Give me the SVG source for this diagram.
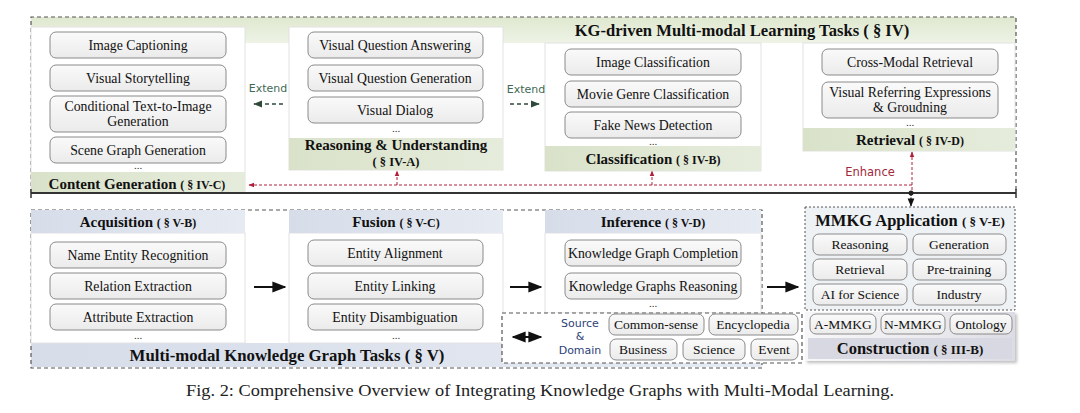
<svg xmlns="http://www.w3.org/2000/svg" width="1080" height="413" viewBox="0 0 1080 413">
<defs>
<linearGradient id="hdr" x1="0" y1="0" x2="0" y2="1"><stop offset="0" stop-color="#dfe8cf"/><stop offset="1" stop-color="#eef3e6"/></linearGradient>
<linearGradient id="item" x1="0" y1="0" x2="0" y2="1"><stop offset="0" stop-color="#fafafa"/><stop offset="1" stop-color="#ebebeb"/></linearGradient>
<linearGradient id="gband" x1="0" y1="0" x2="1" y2="0"><stop offset="0" stop-color="#d9e2c9"/><stop offset="1" stop-color="#e6ecdc"/></linearGradient>
<linearGradient id="bband" x1="0" y1="0" x2="1" y2="0"><stop offset="0" stop-color="#d6dde9"/><stop offset="1" stop-color="#e6eaf2"/></linearGradient>
<linearGradient id="cons" x1="0" y1="0" x2="1" y2="0"><stop offset="0" stop-color="#f7f7f9"/><stop offset="0.55" stop-color="#ececf0"/><stop offset="1" stop-color="#dcdce4"/></linearGradient>
<filter id="sh" x="-5%" y="-10%" width="110%" height="130%"><feDropShadow dx="2" dy="2" stdDeviation="1.5" flood-color="#000" flood-opacity="0.25"/></filter>
<marker id="ab" viewBox="0 0 10 10" refX="9" refY="5" markerWidth="7" markerHeight="7" orient="auto-start-reverse"><path d="M0,1 L10,5 L0,9 z" fill="#111"/></marker>
<marker id="ar" viewBox="0 0 10 10" refX="9" refY="5" markerWidth="6" markerHeight="6" orient="auto-start-reverse"><path d="M0,1 L10,5 L0,9 z" fill="#b0203a"/></marker>
<marker id="ag" viewBox="0 0 10 10" refX="9" refY="5" markerWidth="6" markerHeight="6" orient="auto-start-reverse"><path d="M0,1 L10,5 L0,9 z" fill="#2f4a3a"/></marker>
</defs>
<style>
.it{fill:url(#item);stroke:#8a8a8a;stroke-width:1}
.t{font-family:"Liberation Serif","Times New Roman",serif;font-size:13.8px;fill:#111;text-anchor:middle}
.ts{font-size:13.5px}
.b{font-family:"Liberation Serif","Times New Roman",serif;font-weight:bold;font-size:15px;fill:#111;text-anchor:middle}
.s{font-size:12px}
.dots{font-family:"Liberation Serif",serif;font-size:11px;fill:#333;text-anchor:middle}
.dash{fill:none;stroke:#555;stroke-width:1.2;stroke-dasharray:4,3}
.panel{fill:#fff;stroke:#e2e2e2;stroke-width:1}
.sans{font-family:"DejaVu Sans","Liberation Sans",sans-serif;font-size:11px;text-anchor:middle}
</style>

<!-- top container -->
<g id="kg-driven">
<rect x="31" y="17" width="985" height="176" fill="#fff"/>
<rect x="31" y="17" width="985" height="26" fill="url(#hdr)"/>
<path d="M31,193 L31,17 L1016,17 L1016,193" class="dash"/>
<text x="742" y="36" class="b" style="font-size:16.6px">KG-driven Multi-modal Learning Tasks <tspan>( § IV)</tspan></text>
</g>

<g id="content-generation">
<rect x="31" y="27" width="214" height="166" class="panel"/>
<rect x="31" y="172" width="214" height="21" fill="url(#gband)"/>
<rect x="50" y="32" width="176" height="26" rx="6" class="it"/><text x="138" y="50" class="t">Image Captioning</text>
<rect x="50" y="65" width="176" height="26" rx="6" class="it"/><text x="138" y="83" class="t">Visual Storytelling</text>
<rect x="50" y="96" width="176" height="36" rx="6" class="it"/><text x="138" y="111" class="t">Conditional Text-to-Image</text><text x="138" y="126" class="t">Generation</text>
<rect x="50" y="137" width="176" height="26" rx="6" class="it"/><text x="138" y="155" class="t">Scene Graph Generation</text>
<text x="138" y="169" class="dots">...</text>
<text x="137" y="189" class="b">Content Generation <tspan class="s">( § IV-C)</tspan></text>
</g>

<g id="reasoning">
<rect x="289" y="27" width="214" height="143" class="panel"/>
<rect x="289" y="138" width="214" height="32" fill="url(#gband)"/>
<rect x="308" y="32" width="175" height="26" rx="6" class="it"/><text x="395" y="50" class="t">Visual Question Answering</text>
<rect x="308" y="65" width="175" height="26" rx="6" class="it"/><text x="395" y="83" class="t">Visual Question Generation</text>
<rect x="308" y="97" width="175" height="26" rx="6" class="it"/><text x="395" y="115" class="t">Visual Dialog</text>
<text x="396" y="132" class="dots">...</text>
<text x="396" y="150" class="b">Reasoning &amp; Understanding</text>
<text x="396" y="166" class="b" style="font-size:12.5px">( § IV-A)</text>
</g>

<g id="classification">
<rect x="545" y="43" width="216" height="128" class="panel"/>
<rect x="545" y="146" width="216" height="25" fill="url(#gband)"/>
<rect x="565" y="49" width="176" height="26" rx="6" class="it"/><text x="653" y="67" class="t">Image Classification</text>
<rect x="565" y="81" width="176" height="26" rx="6" class="it"/><text x="653" y="99" class="t">Movie Genre Classification</text>
<rect x="565" y="112" width="176" height="26" rx="6" class="it"/><text x="653" y="130" class="t">Fake News Detection</text>
<text x="653" y="145" class="dots">...</text>
<text x="653" y="164" class="b">Classification <tspan class="s">( § IV-B)</tspan></text>
</g>

<g id="retrieval">
<rect x="803" y="43" width="212" height="108" class="panel"/>
<rect x="803" y="128" width="212" height="23" fill="url(#gband)"/>
<rect x="822" y="49" width="176" height="26" rx="6" class="it"/><text x="910" y="67" class="t">Cross-Modal Retrieval</text>
<rect x="822" y="82" width="176" height="36" rx="6" class="it"/><text x="910" y="97" class="t">Visual Referring Expressions</text><text x="910" y="112" class="t">&amp; Groudning</text>
<text x="910" y="126" class="dots">...</text>
<text x="910" y="145" class="b">Retrieval <tspan class="s">( § IV-D)</tspan></text>
</g>

<!-- bottom container -->
<g id="mmkg-tasks">
<rect x="31" y="210" width="731" height="158" fill="#fff"/>
<rect x="31" y="343" width="731" height="24" fill="url(#bband)"/>
<rect x="31" y="210" width="731" height="158" class="dash"/>
<text x="287" y="361" class="b" style="font-size:16.8px">Multi-modal Knowledge Graph Tasks  <tspan>( § V)</tspan></text>
</g>

<g id="acquisition">
<rect x="31" y="233" width="214" height="110" class="panel"/>
<rect x="31" y="210" width="214" height="23" fill="url(#bband)"/>
<text x="138" y="227" class="b">Acquisition <tspan class="s">( § V-B)</tspan></text>
<rect x="50" y="242" width="176" height="26" rx="6" class="it"/><text x="138" y="260" class="t">Name Entity Recognition</text>
<rect x="50" y="273" width="176" height="26" rx="6" class="it"/><text x="138" y="291" class="t">Relation Extraction</text>
<rect x="50" y="304" width="176" height="26" rx="6" class="it"/><text x="138" y="322" class="t">Attribute Extraction</text>
<text x="138" y="339" class="dots">...</text>
</g>

<g id="fusion">
<rect x="289" y="233" width="214" height="110" class="panel"/>
<rect x="289" y="210" width="214" height="23" fill="url(#bband)"/>
<text x="396" y="227" class="b">Fusion  <tspan class="s">( § V-C)</tspan></text>
<rect x="308" y="240" width="175" height="26" rx="6" class="it"/><text x="395" y="258" class="t">Entity Alignment</text>
<rect x="308" y="273" width="175" height="26" rx="6" class="it"/><text x="395" y="291" class="t">Entity Linking</text>
<rect x="308" y="304" width="175" height="26" rx="6" class="it"/><text x="395" y="322" class="t">Entity Disambiguation</text>
<text x="396" y="339" class="dots">...</text>
</g>

<g id="inference">
<rect x="545" y="233" width="216" height="80" class="panel"/>
<rect x="545" y="210" width="216" height="23" fill="url(#bband)"/>
<text x="653" y="227" class="b">Inference  <tspan class="s">( § V-D)</tspan></text>
<rect x="565" y="240" width="176" height="26" rx="6" class="it"/><text x="653" y="258" class="t">Knowledge Graph Completion</text>
<rect x="565" y="273" width="176" height="26" rx="6" class="it"/><text x="653" y="291" class="t">Knowledge Graphs Reasoning</text>
<text x="653" y="307" class="dots">...</text>
</g>

<g id="mmkg-application">
<rect x="805" y="207" width="210" height="103" class="dash" style="fill:#eef2f4;stroke-dasharray:2,2;stroke-width:1"/>
<text x="910" y="226" class="b" style="font-size:16.5px">MMKG Application <tspan class="s" style="font-size:13px">( § V-E)</tspan></text>
<rect x="813" y="234" width="94" height="21" rx="6" class="it"/><text x="860" y="249" class="t ts">Reasoning</text>
<rect x="913" y="234" width="93" height="21" rx="6" class="it"/><text x="959" y="249" class="t ts">Generation</text>
<rect x="813" y="259" width="94" height="21" rx="6" class="it"/><text x="860" y="274" class="t ts">Retrieval</text>
<rect x="913" y="259" width="93" height="21" rx="6" class="it"/><text x="959" y="274" class="t ts">Pre-training</text>
<rect x="813" y="284" width="94" height="21" rx="6" class="it"/><text x="860" y="299" class="t ts">AI for Science</text>
<rect x="913" y="284" width="93" height="21" rx="6" class="it"/><text x="959" y="299" class="t ts">Industry</text>
</g>

<g id="source-domain">
<rect x="502" y="313" width="300" height="50" class="dash" style="fill:#fff"/>
<text x="580" y="327" class="sans" style="fill:#2d3f78">Source</text>
<text x="580" y="340" class="sans" style="fill:#2d3f78">&amp;</text>
<text x="580" y="354" class="sans" style="fill:#2d3f78">Domain</text>
<rect x="609" y="314" width="95" height="21" rx="6" class="it"/><text x="656" y="329" class="t ts">Common-sense</text>
<rect x="709" y="314" width="89" height="21" rx="6" class="it"/><text x="753" y="329" class="t ts">Encyclopedia</text>
<rect x="610" y="339" width="67" height="21" rx="6" class="it"/><text x="643" y="354" class="t ts">Business</text>
<rect x="683" y="339" width="62" height="21" rx="6" class="it"/><text x="714" y="354" class="t ts">Science</text>
<rect x="751" y="339" width="47" height="21" rx="6" class="it"/><text x="774" y="354" class="t ts">Event</text>
</g>

<g id="construction">
<rect x="805" y="312" width="210" height="49" fill="url(#cons)" filter="url(#sh)"/>
<rect x="810" y="314" width="66" height="20" rx="6" class="it"/><text x="843" y="329" class="t ts">A-MMKG</text>
<rect x="881" y="314" width="64" height="20" rx="6" class="it"/><text x="913" y="329" class="t ts">N-MMKG</text>
<rect x="950" y="314" width="62" height="20" rx="6" class="it"/><text x="981" y="329" class="t ts">Ontology</text>
<rect x="808" y="338" width="204" height="21" fill="#d8d8e2"/>
<text x="910" y="354" class="b" style="font-size:16.5px">Construction <tspan class="s" style="font-size:13px">( § III-B)</tspan></text>
</g>

<g id="connectors">
<text x="268" y="92" class="sans" style="fill:#3f6a55">Extend</text>
<line x1="283" y1="104" x2="254" y2="104" stroke="#2f4a3a" stroke-width="1.5" stroke-dasharray="4,3" marker-end="url(#ag)"/>
<text x="526" y="93" class="sans" style="fill:#3f6a55">Extend</text>
<line x1="510" y1="104" x2="539" y2="104" stroke="#2f4a3a" stroke-width="1.5" stroke-dasharray="4,3" marker-end="url(#ag)"/>
<polyline points="912,185 249,185" fill="none" stroke="#b0203a" stroke-width="1" stroke-dasharray="3,2" marker-end="url(#ar)"/>
<line x1="912" y1="190" x2="912" y2="152" stroke="#b0203a" stroke-width="1" stroke-dasharray="3,2" marker-end="url(#ar)"/>
<line x1="397" y1="185" x2="397" y2="171" stroke="#b0203a" stroke-width="1" stroke-dasharray="3,2" marker-end="url(#ar)"/>
<line x1="652" y1="185" x2="652" y2="171" stroke="#b0203a" stroke-width="1" stroke-dasharray="3,2" marker-end="url(#ar)"/>
<text x="870" y="176" class="sans" style="fill:#a0283a;font-size:11.5px">Enhance</text>
<line x1="31" y1="193" x2="1016" y2="193" stroke="#333" stroke-width="2"/>
<line x1="31" y1="189" x2="31" y2="198" stroke="#333" stroke-width="1.5"/>
<line x1="1016" y1="189" x2="1016" y2="198" stroke="#333" stroke-width="1.5"/>
<circle cx="911" cy="193" r="2.5" fill="#222"/>
<line x1="911" y1="194" x2="911" y2="206" stroke="#222" stroke-width="1.2" stroke-dasharray="2,1.5" marker-end="url(#ab)"/>
<line x1="254" y1="287" x2="285" y2="287" stroke="#111" stroke-width="2" marker-end="url(#ab)"/>
<line x1="510" y1="287" x2="541" y2="287" stroke="#111" stroke-width="2" marker-end="url(#ab)"/>
<line x1="767" y1="287" x2="798" y2="287" stroke="#111" stroke-width="2" marker-end="url(#ab)"/>
<line x1="513" y1="337" x2="541" y2="337" stroke="#111" stroke-width="2" marker-start="url(#ab)" marker-end="url(#ab)"/>
</g>

<text x="540" y="396" font-family="Liberation Serif, Times New Roman, serif" font-size="17.5" text-anchor="middle" fill="#222" textLength="708" lengthAdjust="spacingAndGlyphs">Fig. 2: Comprehensive Overview of Integrating Knowledge Graphs with Multi-Modal Learning.</text>
</svg>
